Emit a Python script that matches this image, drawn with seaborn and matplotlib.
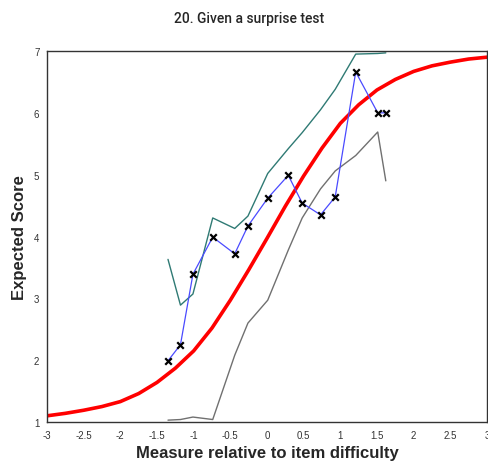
import numpy as np
import pandas as pd
import matplotlib
matplotlib.use("Agg")
import matplotlib.pyplot as plt
import seaborn as sns

# model curve (expected score)
curve_x = [-3, -2.75, -2.5, -2.25, -2, -1.75, -1.5, -1.25, -1, -0.75, -0.5, -0.25,
           0, 0.25, 0.5, 0.75, 1, 1.25, 1.5, 1.75, 2, 2.25, 2.5, 2.75, 3]
curve_y = [1.10, 1.14, 1.19, 1.25, 1.33, 1.46, 1.64, 1.87, 2.15, 2.52, 2.97, 3.46,
           3.97, 4.49, 4.98, 5.43, 5.83, 6.13, 6.37, 6.54, 6.67, 6.76, 6.82, 6.87, 6.90]

# observed averages
obs_x = [-1.35, -1.18, -1.01, -0.74, -0.44, -0.26, 0.01, 0.29, 0.48, 0.73, 0.93, 1.21, 1.51, 1.62]
obs_y = [1.99, 2.25, 3.39, 3.99, 3.72, 4.17, 4.62, 4.99, 4.54, 4.35, 4.64, 6.66, 6.00, 6.00]

# confidence band
upper_y = [3.63, 2.89, 3.07, 4.30, 4.13, 4.33, 5.02, 5.42, 5.68, 6.05, 6.38, 6.95, 6.96, 6.97]
lower_y = [1.03, 1.04, 1.08, 1.04, 2.08, 2.60, 2.97, 3.78, 4.30, 4.77, 5.06, 5.31, 5.69, 4.90]

x_ticks = [-3, -2.5, -2, -1.5, -1, -0.5, 0, 0.5, 1, 1.5, 2, 2.5, 3]
x_ticklabels = ["-3", "-2.5", "-2", "-1.5", "-1", "-0.5", "0", "0.5", "1", "1.5", "2", "2.5", "3"]
y_ticks = [1, 2, 3, 4, 5, 6, 7]

sns.set_style("white")
plt.rcParams['font.family'] = ['Liberation Sans', 'DejaVu Sans']

fig = plt.figure(figsize=(4.88, 4.64), dpi=100)
ax = fig.add_axes([47/488, 1-423/464, 440/488, 371/464])

df_obs = pd.DataFrame({"x": obs_x, "y": obs_y, "up": upper_y, "lo": lower_y})
df_curve = pd.DataFrame({"x": curve_x, "y": curve_y})

sns.lineplot(data=df_obs, x="x", y="up", color="#2f7a74", lw=1, sort=False, ax=ax)
sns.lineplot(data=df_obs, x="x", y="lo", color="#707070", lw=1, sort=False, ax=ax)
sns.lineplot(data=df_curve, x="x", y="y", color="#ff0000", lw=2.6, sort=False, ax=ax)
sns.lineplot(data=df_obs, x="x", y="y", color="#4a4aff", lw=0.9, sort=False, ax=ax)
sns.scatterplot(data=df_obs, x="x", y="y", marker="x", color="black", s=22,
                linewidth=1.6, ax=ax, zorder=5)

ax.set_xlim(-3, 3)
ax.set_ylim(1, 7)
ax.set_xticks(x_ticks)
ax.set_xticklabels(x_ticklabels)
ax.set_yticks(y_ticks)
ax.tick_params(axis="both", direction="inout", length=5, width=0.8, color="#333333",
               labelsize=7, labelcolor="#333333", pad=3)
for s in ax.spines.values():
    s.set_color("#333333")
    s.set_linewidth(1)

ax.set_xlabel("Measure relative to item difficulty", fontsize=12, fontweight="bold", labelpad=4)
ax.set_ylabel("Expected Score", fontsize=12, fontweight="bold", labelpad=5)
fig.text(249/488, 1-19/464, "20. Given a surprise test", ha="center", va="center",
         fontsize=10, fontweight="medium", family=["Roboto", "DejaVu Sans"])

fig.savefig("out.png", dpi=100)
